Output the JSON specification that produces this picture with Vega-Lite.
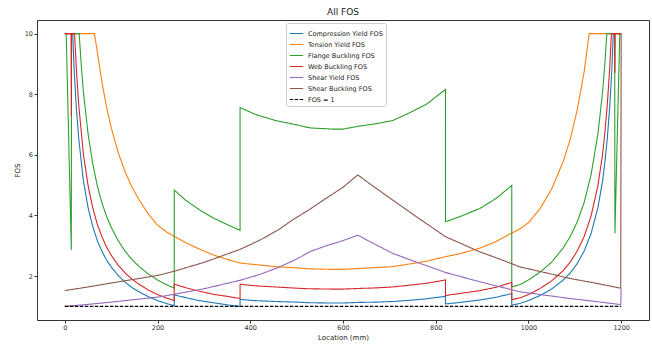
{
 "$schema": "https://vega.github.io/schema/vega-lite/v6.json",
 "width": 612, "height": 300,
 "autosize": {"type": "none"},
 "padding": {"left": 37, "top": 20, "right": 3, "bottom": 25},
 "background": "white",
 "title": {"text": "All FOS", "fontSize": 9, "fontWeight": "normal", "font": "DejaVu Sans", "offset": 3, "color": "#222"},
 "config": {"view": {"stroke": "#333", "strokeWidth": 1}, "font": "DejaVu Sans"},
 "datasets": {
  "d": [
   {"s":"Compression Yield FOS","x":0,"y":10},{"s":"Compression Yield FOS","x":17,"y":10},{"s":"Compression Yield FOS","x":20,"y":8.85},{"s":"Compression Yield FOS","x":25,"y":7.52},{"s":"Compression Yield FOS","x":30,"y":6.54},{"s":"Compression Yield FOS","x":40,"y":5.15},{"s":"Compression Yield FOS","x":50,"y":4.27},{"s":"Compression Yield FOS","x":60,"y":3.65},{"s":"Compression Yield FOS","x":70,"y":3.17},{"s":"Compression Yield FOS","x":80,"y":2.82},{"s":"Compression Yield FOS","x":90,"y":2.53},{"s":"Compression Yield FOS","x":100,"y":2.30},{"s":"Compression Yield FOS","x":115,"y":2.02},{"s":"Compression Yield FOS","x":130,"y":1.80},{"s":"Compression Yield FOS","x":145,"y":1.62},{"s":"Compression Yield FOS","x":160,"y":1.48},{"s":"Compression Yield FOS","x":180,"y":1.32},{"s":"Compression Yield FOS","x":200,"y":1.19},{"s":"Compression Yield FOS","x":220,"y":1.09},{"s":"Compression Yield FOS","x":236,"y":1.02},{"s":"Compression Yield FOS","x":236,"y":1.38},{"s":"Compression Yield FOS","x":260,"y":1.29},{"s":"Compression Yield FOS","x":290,"y":1.19},{"s":"Compression Yield FOS","x":320,"y":1.12},{"s":"Compression Yield FOS","x":350,"y":1.05},{"s":"Compression Yield FOS","x":378,"y":1.00},{"s":"Compression Yield FOS","x":378,"y":1.23},{"s":"Compression Yield FOS","x":410,"y":1.19},{"s":"Compression Yield FOS","x":455,"y":1.16},{"s":"Compression Yield FOS","x":500,"y":1.14},{"s":"Compression Yield FOS","x":528,"y":1.12},{"s":"Compression Yield FOS","x":577,"y":1.11},{"s":"Compression Yield FOS","x":600,"y":1.11},{"s":"Compression Yield FOS","x":632,"y":1.13},{"s":"Compression Yield FOS","x":672,"y":1.14},{"s":"Compression Yield FOS","x":707,"y":1.16},{"s":"Compression Yield FOS","x":744,"y":1.20},{"s":"Compression Yield FOS","x":780,"y":1.25},{"s":"Compression Yield FOS","x":821,"y":1.33},{"s":"Compression Yield FOS","x":821,"y":1.08},{"s":"Compression Yield FOS","x":850,"y":1.125},{"s":"Compression Yield FOS","x":895,"y":1.21},{"s":"Compression Yield FOS","x":930,"y":1.30},{"s":"Compression Yield FOS","x":964,"y":1.42},{"s":"Compression Yield FOS","x":964,"y":1.04},{"s":"Compression Yield FOS","x":982,"y":1.10},{"s":"Compression Yield FOS","x":1000,"y":1.19},{"s":"Compression Yield FOS","x":1025,"y":1.36},{"s":"Compression Yield FOS","x":1050,"y":1.57},{"s":"Compression Yield FOS","x":1075,"y":1.87},{"s":"Compression Yield FOS","x":1090,"y":2.10},{"s":"Compression Yield FOS","x":1105,"y":2.41},{"s":"Compression Yield FOS","x":1120,"y":2.82},{"s":"Compression Yield FOS","x":1135,"y":3.40},{"s":"Compression Yield FOS","x":1150,"y":4.27},{"s":"Compression Yield FOS","x":1160,"y":5.15},{"s":"Compression Yield FOS","x":1165,"y":5.78},{"s":"Compression Yield FOS","x":1170,"y":6.54},{"s":"Compression Yield FOS","x":1175,"y":7.52},{"s":"Compression Yield FOS","x":1180,"y":8.85},{"s":"Compression Yield FOS","x":1183,"y":10},{"s":"Compression Yield FOS","x":1200,"y":10},

   {"s":"Tension Yield FOS","x":0,"y":10},{"s":"Tension Yield FOS","x":64,"y":10},{"s":"Tension Yield FOS","x":70,"y":9.40},{"s":"Tension Yield FOS","x":80,"y":8.40},{"s":"Tension Yield FOS","x":90,"y":7.58},{"s":"Tension Yield FOS","x":100,"y":6.90},{"s":"Tension Yield FOS","x":115,"y":6.08},{"s":"Tension Yield FOS","x":130,"y":5.44},{"s":"Tension Yield FOS","x":145,"y":4.93},{"s":"Tension Yield FOS","x":160,"y":4.52},{"s":"Tension Yield FOS","x":180,"y":4.05},{"s":"Tension Yield FOS","x":200,"y":3.68},{"s":"Tension Yield FOS","x":220,"y":3.45},{"s":"Tension Yield FOS","x":236,"y":3.31},{"s":"Tension Yield FOS","x":260,"y":3.11},{"s":"Tension Yield FOS","x":290,"y":2.89},{"s":"Tension Yield FOS","x":320,"y":2.70},{"s":"Tension Yield FOS","x":350,"y":2.55},{"s":"Tension Yield FOS","x":378,"y":2.43},{"s":"Tension Yield FOS","x":410,"y":2.38},{"s":"Tension Yield FOS","x":455,"y":2.31},{"s":"Tension Yield FOS","x":500,"y":2.27},{"s":"Tension Yield FOS","x":528,"y":2.24},{"s":"Tension Yield FOS","x":577,"y":2.22},{"s":"Tension Yield FOS","x":600,"y":2.22},{"s":"Tension Yield FOS","x":632,"y":2.25},{"s":"Tension Yield FOS","x":672,"y":2.28},{"s":"Tension Yield FOS","x":707,"y":2.31},{"s":"Tension Yield FOS","x":744,"y":2.40},{"s":"Tension Yield FOS","x":780,"y":2.49},{"s":"Tension Yield FOS","x":821,"y":2.64},{"s":"Tension Yield FOS","x":850,"y":2.73},{"s":"Tension Yield FOS","x":895,"y":2.92},{"s":"Tension Yield FOS","x":930,"y":3.14},{"s":"Tension Yield FOS","x":964,"y":3.42},{"s":"Tension Yield FOS","x":982,"y":3.56},{"s":"Tension Yield FOS","x":1000,"y":3.76},{"s":"Tension Yield FOS","x":1025,"y":4.22},{"s":"Tension Yield FOS","x":1050,"y":4.87},{"s":"Tension Yield FOS","x":1075,"y":5.78},{"s":"Tension Yield FOS","x":1090,"y":6.51},{"s":"Tension Yield FOS","x":1105,"y":7.47},{"s":"Tension Yield FOS","x":1120,"y":8.73},{"s":"Tension Yield FOS","x":1131,"y":10},{"s":"Tension Yield FOS","x":1200,"y":10},

   {"s":"Flange Buckling FOS","x":0,"y":10},{"s":"Flange Buckling FOS","x":3,"y":10},{"s":"Flange Buckling FOS","x":14,"y":2.86},{"s":"Flange Buckling FOS","x":14.5,"y":10},{"s":"Flange Buckling FOS","x":31,"y":10},{"s":"Flange Buckling FOS","x":35,"y":9.06},{"s":"Flange Buckling FOS","x":40,"y":8.09},{"s":"Flange Buckling FOS","x":50,"y":6.71},{"s":"Flange Buckling FOS","x":60,"y":5.73},{"s":"Flange Buckling FOS","x":70,"y":4.98},{"s":"Flange Buckling FOS","x":80,"y":4.42},{"s":"Flange Buckling FOS","x":90,"y":3.97},{"s":"Flange Buckling FOS","x":100,"y":3.61},{"s":"Flange Buckling FOS","x":115,"y":3.17},{"s":"Flange Buckling FOS","x":130,"y":2.82},{"s":"Flange Buckling FOS","x":145,"y":2.54},{"s":"Flange Buckling FOS","x":160,"y":2.32},{"s":"Flange Buckling FOS","x":180,"y":2.07},{"s":"Flange Buckling FOS","x":200,"y":1.87},{"s":"Flange Buckling FOS","x":220,"y":1.71},{"s":"Flange Buckling FOS","x":236,"y":1.60},{"s":"Flange Buckling FOS","x":236,"y":4.84},{"s":"Flange Buckling FOS","x":260,"y":4.51},{"s":"Flange Buckling FOS","x":290,"y":4.19},{"s":"Flange Buckling FOS","x":320,"y":3.92},{"s":"Flange Buckling FOS","x":350,"y":3.70},{"s":"Flange Buckling FOS","x":378,"y":3.51},{"s":"Flange Buckling FOS","x":378,"y":7.56},{"s":"Flange Buckling FOS","x":410,"y":7.34},{"s":"Flange Buckling FOS","x":455,"y":7.13},{"s":"Flange Buckling FOS","x":500,"y":6.99},{"s":"Flange Buckling FOS","x":528,"y":6.89},{"s":"Flange Buckling FOS","x":577,"y":6.85},{"s":"Flange Buckling FOS","x":600,"y":6.85},{"s":"Flange Buckling FOS","x":632,"y":6.94},{"s":"Flange Buckling FOS","x":672,"y":7.03},{"s":"Flange Buckling FOS","x":707,"y":7.13},{"s":"Flange Buckling FOS","x":744,"y":7.39},{"s":"Flange Buckling FOS","x":780,"y":7.67},{"s":"Flange Buckling FOS","x":821,"y":8.16},{"s":"Flange Buckling FOS","x":821,"y":3.79},{"s":"Flange Buckling FOS","x":850,"y":3.95},{"s":"Flange Buckling FOS","x":895,"y":4.23},{"s":"Flange Buckling FOS","x":930,"y":4.56},{"s":"Flange Buckling FOS","x":964,"y":4.99},{"s":"Flange Buckling FOS","x":964,"y":1.64},{"s":"Flange Buckling FOS","x":982,"y":1.72},{"s":"Flange Buckling FOS","x":1000,"y":1.87},{"s":"Flange Buckling FOS","x":1025,"y":2.13},{"s":"Flange Buckling FOS","x":1050,"y":2.46},{"s":"Flange Buckling FOS","x":1075,"y":2.93},{"s":"Flange Buckling FOS","x":1090,"y":3.30},{"s":"Flange Buckling FOS","x":1105,"y":3.78},{"s":"Flange Buckling FOS","x":1120,"y":4.42},{"s":"Flange Buckling FOS","x":1135,"y":5.34},{"s":"Flange Buckling FOS","x":1150,"y":6.71},{"s":"Flange Buckling FOS","x":1160,"y":8.09},{"s":"Flange Buckling FOS","x":1165,"y":9.06},{"s":"Flange Buckling FOS","x":1169,"y":10},{"s":"Flange Buckling FOS","x":1186,"y":10},{"s":"Flange Buckling FOS","x":1186.5,"y":3.41},{"s":"Flange Buckling FOS","x":1197,"y":10},{"s":"Flange Buckling FOS","x":1200,"y":10},

   {"s":"Web Buckling FOS","x":0,"y":10},{"s":"Web Buckling FOS","x":13.5,"y":10},{"s":"Web Buckling FOS","x":14,"y":7.27},{"s":"Web Buckling FOS","x":14.5,"y":10},{"s":"Web Buckling FOS","x":21,"y":10},{"s":"Web Buckling FOS","x":25,"y":8.80},{"s":"Web Buckling FOS","x":30,"y":7.65},{"s":"Web Buckling FOS","x":40,"y":6.03},{"s":"Web Buckling FOS","x":50,"y":5.00},{"s":"Web Buckling FOS","x":60,"y":4.27},{"s":"Web Buckling FOS","x":70,"y":3.71},{"s":"Web Buckling FOS","x":80,"y":3.30},{"s":"Web Buckling FOS","x":90,"y":2.96},{"s":"Web Buckling FOS","x":100,"y":2.69},{"s":"Web Buckling FOS","x":115,"y":2.36},{"s":"Web Buckling FOS","x":130,"y":2.10},{"s":"Web Buckling FOS","x":145,"y":1.90},{"s":"Web Buckling FOS","x":160,"y":1.73},{"s":"Web Buckling FOS","x":180,"y":1.54},{"s":"Web Buckling FOS","x":200,"y":1.39},{"s":"Web Buckling FOS","x":220,"y":1.27},{"s":"Web Buckling FOS","x":236,"y":1.19},{"s":"Web Buckling FOS","x":236,"y":1.73},{"s":"Web Buckling FOS","x":260,"y":1.62},{"s":"Web Buckling FOS","x":290,"y":1.50},{"s":"Web Buckling FOS","x":320,"y":1.40},{"s":"Web Buckling FOS","x":350,"y":1.33},{"s":"Web Buckling FOS","x":378,"y":1.26},{"s":"Web Buckling FOS","x":378,"y":1.73},{"s":"Web Buckling FOS","x":410,"y":1.68},{"s":"Web Buckling FOS","x":455,"y":1.64},{"s":"Web Buckling FOS","x":500,"y":1.60},{"s":"Web Buckling FOS","x":528,"y":1.58},{"s":"Web Buckling FOS","x":577,"y":1.57},{"s":"Web Buckling FOS","x":600,"y":1.57},{"s":"Web Buckling FOS","x":632,"y":1.59},{"s":"Web Buckling FOS","x":672,"y":1.61},{"s":"Web Buckling FOS","x":707,"y":1.64},{"s":"Web Buckling FOS","x":744,"y":1.70},{"s":"Web Buckling FOS","x":780,"y":1.76},{"s":"Web Buckling FOS","x":821,"y":1.87},{"s":"Web Buckling FOS","x":821,"y":1.36},{"s":"Web Buckling FOS","x":850,"y":1.42},{"s":"Web Buckling FOS","x":895,"y":1.52},{"s":"Web Buckling FOS","x":930,"y":1.63},{"s":"Web Buckling FOS","x":964,"y":1.79},{"s":"Web Buckling FOS","x":964,"y":1.22},{"s":"Web Buckling FOS","x":982,"y":1.28},{"s":"Web Buckling FOS","x":1000,"y":1.39},{"s":"Web Buckling FOS","x":1025,"y":1.59},{"s":"Web Buckling FOS","x":1050,"y":1.84},{"s":"Web Buckling FOS","x":1075,"y":2.18},{"s":"Web Buckling FOS","x":1090,"y":2.46},{"s":"Web Buckling FOS","x":1105,"y":2.82},{"s":"Web Buckling FOS","x":1120,"y":3.30},{"s":"Web Buckling FOS","x":1135,"y":3.98},{"s":"Web Buckling FOS","x":1150,"y":5.00},{"s":"Web Buckling FOS","x":1160,"y":6.03},{"s":"Web Buckling FOS","x":1165,"y":6.76},{"s":"Web Buckling FOS","x":1170,"y":7.65},{"s":"Web Buckling FOS","x":1175,"y":8.80},{"s":"Web Buckling FOS","x":1179,"y":10},{"s":"Web Buckling FOS","x":1186,"y":10},{"s":"Web Buckling FOS","x":1186.5,"y":8.71},{"s":"Web Buckling FOS","x":1187,"y":10},{"s":"Web Buckling FOS","x":1200,"y":10},

   {"s":"Shear Yield FOS","x":0,"y":1.00},{"s":"Shear Yield FOS","x":50,"y":1.065},{"s":"Shear Yield FOS","x":100,"y":1.14},{"s":"Shear Yield FOS","x":160,"y":1.24},{"s":"Shear Yield FOS","x":203,"y":1.31},{"s":"Shear Yield FOS","x":236,"y":1.40},{"s":"Shear Yield FOS","x":300,"y":1.58},{"s":"Shear Yield FOS","x":378,"y":1.86},{"s":"Shear Yield FOS","x":420,"y":2.05},{"s":"Shear Yield FOS","x":460,"y":2.28},{"s":"Shear Yield FOS","x":500,"y":2.56},{"s":"Shear Yield FOS","x":528,"y":2.80},{"s":"Shear Yield FOS","x":560,"y":2.98},{"s":"Shear Yield FOS","x":600,"y":3.17},{"s":"Shear Yield FOS","x":632,"y":3.35},{"s":"Shear Yield FOS","x":660,"y":3.12},{"s":"Shear Yield FOS","x":707,"y":2.75},{"s":"Shear Yield FOS","x":760,"y":2.45},{"s":"Shear Yield FOS","x":821,"y":2.12},{"s":"Shear Yield FOS","x":895,"y":1.81},{"s":"Shear Yield FOS","x":940,"y":1.64},{"s":"Shear Yield FOS","x":982,"y":1.48},{"s":"Shear Yield FOS","x":1040,"y":1.36},{"s":"Shear Yield FOS","x":1090,"y":1.26},{"s":"Shear Yield FOS","x":1150,"y":1.15},{"s":"Shear Yield FOS","x":1199,"y":1.06},{"s":"Shear Yield FOS","x":1200,"y":1.58},

   {"s":"Shear Buckling FOS","x":0,"y":1.52},{"s":"Shear Buckling FOS","x":50,"y":1.64},{"s":"Shear Buckling FOS","x":100,"y":1.77},{"s":"Shear Buckling FOS","x":160,"y":1.92},{"s":"Shear Buckling FOS","x":203,"y":2.03},{"s":"Shear Buckling FOS","x":236,"y":2.16},{"s":"Shear Buckling FOS","x":300,"y":2.45},{"s":"Shear Buckling FOS","x":378,"y":2.88},{"s":"Shear Buckling FOS","x":420,"y":3.18},{"s":"Shear Buckling FOS","x":460,"y":3.52},{"s":"Shear Buckling FOS","x":491,"y":3.85},{"s":"Shear Buckling FOS","x":528,"y":4.20},{"s":"Shear Buckling FOS","x":564,"y":4.57},{"s":"Shear Buckling FOS","x":600,"y":4.93},{"s":"Shear Buckling FOS","x":632,"y":5.34},{"s":"Shear Buckling FOS","x":660,"y":5.02},{"s":"Shear Buckling FOS","x":707,"y":4.51},{"s":"Shear Buckling FOS","x":760,"y":3.94},{"s":"Shear Buckling FOS","x":821,"y":3.30},{"s":"Shear Buckling FOS","x":895,"y":2.80},{"s":"Shear Buckling FOS","x":940,"y":2.55},{"s":"Shear Buckling FOS","x":982,"y":2.30},{"s":"Shear Buckling FOS","x":1040,"y":2.10},{"s":"Shear Buckling FOS","x":1090,"y":1.92},{"s":"Shear Buckling FOS","x":1150,"y":1.75},{"s":"Shear Buckling FOS","x":1199,"y":1.60},{"s":"Shear Buckling FOS","x":1200,"y":10},

   {"s":"FOS = 1","x":0,"y":1},{"s":"FOS = 1","x":1200,"y":1}
  ]
 },
 "data": {"name": "d"},
 "mark": {"type": "line", "strokeWidth": 1.1, "clip": true},
 "encoding": {
  "x": {"field": "x", "type": "quantitative", "scale": {"domain": [-60, 1260], "nice": false, "zero": false},
        "axis": {"values": [0,200,400,600,800,1000,1200], "format": "d", "title": "Location (mm)", "titleFontSize": 7, "titleFontWeight": "normal", "titleColor": "#222", "labelFontSize": 6.5, "labelColor": "#333", "tickSize": 3, "tickColor": "#333", "domain": false, "grid": false, "labelPadding": 1.5, "titlePadding": 2}},
  "y": {"field": "y", "type": "quantitative", "scale": {"domain": [0.55, 10.45], "nice": false, "zero": false},
        "axis": {"values": [2,4,6,8,10], "title": "FOS", "titleFontSize": 7, "titleFontWeight": "normal", "titleColor": "#222", "labelFontSize": 6.5, "labelColor": "#333", "tickSize": 3, "tickColor": "#333", "domain": false, "grid": false, "labelPadding": 1.5, "titlePadding": 4}},
  "color": {"field": "s", "type": "nominal",
    "scale": {"domain": ["Compression Yield FOS","Tension Yield FOS","Flange Buckling FOS","Web Buckling FOS","Shear Yield FOS","Shear Buckling FOS","FOS = 1"],
              "range": ["#1f77b4","#ff7f0e","#2ca02c","#d62728","#9467bd","#8c564b","#000000"]},
    "legend": {"title": null, "orient": "none", "legendX": 249, "legendY": 3, "symbolType": "stroke", "symbolSize": 180, "symbolStrokeWidth": 1.2, "labelFontSize": 6.5, "labelColor": "#222", "padding": 3, "strokeColor": "#ccc", "fillColor": "white", "cornerRadius": 2, "rowPadding": -4, "labelLimit": 200}},
  "strokeDash": {"field": "s", "type": "nominal",
    "scale": {"domain": ["Compression Yield FOS","Tension Yield FOS","Flange Buckling FOS","Web Buckling FOS","Shear Yield FOS","Shear Buckling FOS","FOS = 1"],
              "range": [[1,0],[1,0],[1,0],[1,0],[1,0],[1,0],[3.5,1.5]]},
    "legend": {"title": null, "orient": "none", "legendX": 249, "legendY": 3, "symbolType": "stroke", "symbolSize": 180, "symbolStrokeWidth": 1.2, "labelFontSize": 6.5, "labelColor": "#222", "padding": 3, "strokeColor": "#ccc", "fillColor": "white", "cornerRadius": 2, "rowPadding": -4, "labelLimit": 200}},
  "order": {"value": null}
 }
}
